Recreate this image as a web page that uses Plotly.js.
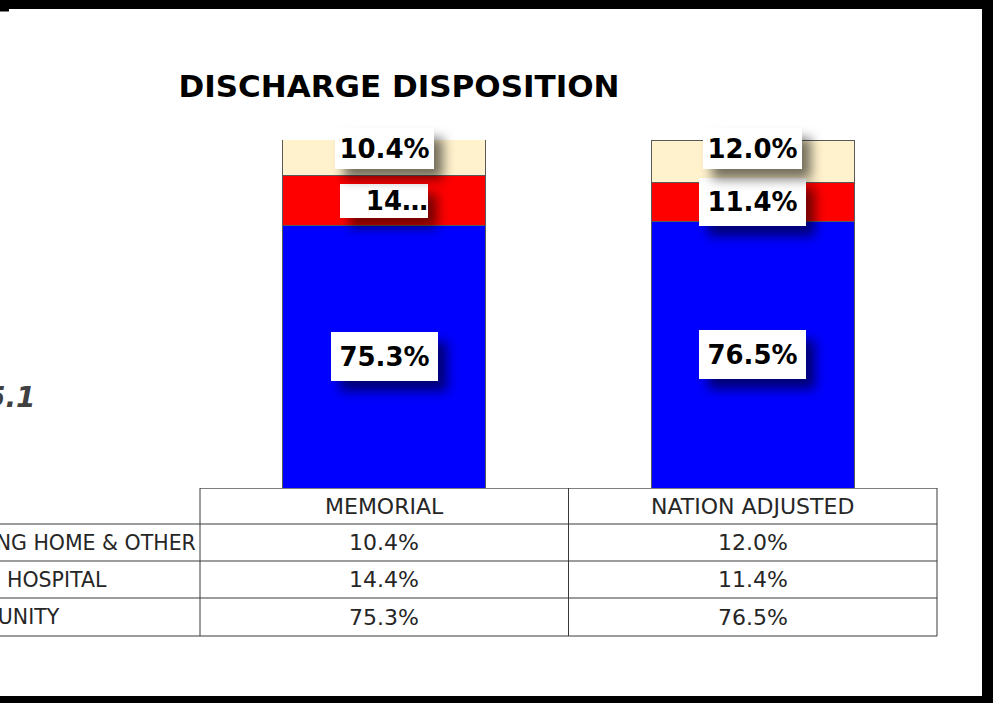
<!DOCTYPE html>
<html><head><meta charset="utf-8">
<script src="https://cdn.plot.ly/plotly-3.0.1.min.js"></script>
<style>html,body{margin:0;padding:0;background:#000;overflow:hidden}#chart{width:993px;height:703px}</style>
</head><body>
<svg width="0" height="0" style="position:absolute"><defs>
<filter id="lblShadow" x="-30%" y="-30%" width="180%" height="200%">
<feDropShadow dx="9" dy="10" stdDeviation="6" flood-color="#000" flood-opacity="0.55"/>
</filter></defs></svg>
<div id="chart"></div>
<script>
// ---------- data ----------
const categories = ['MEMORIAL', 'NATION ADJUSTED'];
const seriesNames = ['COMMUNITY', 'ACUTE HOSPITAL', 'NURSING HOME & OTHER']; // bottom -> top of stack
const community = [75.3, 76.5];
const hospital = [14.4, 11.4];
const nursingHomeOther = [10.4, 12.0];
const chartTitle = 'DISCHARGE DISPOSITION';
const sideNote = '5.1';
// data labels that the source chart shows truncated: [seriesIndex, categoryIndex]
const truncatedLabels = [[1, 0]];

// ---------- styles ----------
const series = [community, hospital, nursingHomeOther];
const colors = ['#0000FF', '#FF0000', '#FFF2CC'];
const W = 993, H = 703;
const M = {l: 200, r: 56, t: 140, b: 215};
const plotW = W - M.l - M.r, plotH = H - M.t - M.b;
const px = x => (x - M.l) / plotW;          // pixel -> paper x
const py = y => (H - M.b - y) / plotH;      // pixel -> paper y
const tableFont = {family: 'DejaVu Sans, sans-serif', size: 22, color: '#262626'};
const rowLabelFont = {family: 'DejaVu Sans, sans-serif', size: 20.5, color: '#262626'};
const lineColor = '#3a3a3a';
const yMax = 100;

const traces = series.map((vals, s) => ({
  type: 'bar', x: categories, y: vals, name: seriesNames[s],
  marker: {color: colors[s], line: {color: '#595959', width: 1}},
  hoverinfo: 'none'
}));

const fmt = v => v.toFixed(1) + '%';
const isTrunc = (s, c) => truncatedLabels.some(t => t[0] === s && t[1] === c);

// data label annotations
const labelAnns = [];
categories.forEach((cat, c) => {
  let base = 0;
  series.forEach((vals, s) => {
    const v = vals[c];
    const top = s === series.length - 1;
    let txt = fmt(v);
    let w = top ? 99 : 107, h = top ? 41 : 49;
    if (isTrunc(s, c)) { txt = txt.slice(0, 2) + '…'; w = 88; h = 34; }
    if (s === 1 && !isTrunc(s, c)) h = 48;
    labelAnns.push({
      xref: 'x', yref: 'y', x: cat, y: top ? Math.min(base + v, yMax) : base + v / 2,
      yanchor: top ? 'top' : 'middle', yshift: top ? 12 : 0,
      text: '<b>' + txt + '</b>', showarrow: false,
      font: {family: 'DejaVu Sans, sans-serif', size: 26, color: '#000'},
      bgcolor: '#FFFFFF', borderpad: 0, borderwidth: 0, width: w, height: h,
      align: isTrunc(s, c) ? 'right' : 'center'
    });
    base += v;
  });
});

// table
const rowY = [542.5, 579.5, 617];   // row centres (px) top->bottom
const headerY = 506;
const tableAnns = [];
categories.forEach(cat => tableAnns.push({
  xref: 'x', yref: 'paper', x: cat, y: py(headerY), yanchor: 'middle',
  text: cat, showarrow: false, font: tableFont
}));
const rowSeries = series.map((_, i) => i).reverse(); // top row = top of stack
rowSeries.forEach((s, r) => {
  tableAnns.push({
    xref: 'paper', yref: 'paper', x: px(-70), y: py(rowY[r]), xanchor: 'left', yanchor: 'middle',
    text: seriesNames[s], showarrow: false, font: rowLabelFont
  });
  categories.forEach((cat, c) => tableAnns.push({
    xref: 'x', yref: 'paper', x: cat, y: py(rowY[r]), yanchor: 'middle',
    text: fmt(series[s][c]), showarrow: false, font: tableFont
  }));
});
tableAnns.push({
  xref: 'paper', yref: 'paper', x: px(38), y: py(397), xanchor: 'right', yanchor: 'middle',
  text: '<b><i>' + sideNote + '</i></b>', showarrow: false,
  font: {family: 'DejaVu Sans, sans-serif', size: 28, color: '#404040'}
});

const shapes = [
  {type: 'rect', xref: 'paper', yref: 'paper', x0: px(0), x1: px(982), y0: py(9), y1: py(696),
   fillcolor: '#FFFFFF', line: {width: 0}, layer: 'below'},
  {type: 'rect', xref: 'paper', yref: 'paper', x0: px(0), x1: px(9), y0: py(8), y1: py(11.5),
   fillcolor: '#000000', line: {width: 0}, layer: 'below'}
];
// vertical table lines at category boundaries
const colEdges = [-0.5, 0.5, 1.5].map(b => (b + 0.5) / categories.length);
colEdges.forEach(xp => shapes.push({type: 'line', xref: 'paper', yref: 'paper',
  x0: xp, x1: xp, y0: py(488), y1: py(636), line: {color: lineColor, width: 1}}));
[524, 561, 598, 636].forEach(yy => shapes.push({type: 'line', xref: 'paper', yref: 'paper',
  x0: px(-5), x1: 1, y0: py(yy), y1: py(yy), line: {color: lineColor, width: 1}}));

const layout = {
  width: W, height: H, margin: M,
  paper_bgcolor: '#000000', plot_bgcolor: 'rgba(0,0,0,0)',
  barmode: 'stack', bargap: 0.45, showlegend: false,
  title: {text: '<b>' + chartTitle + '</b>', x: 399 / W, xanchor: 'center',
          y: 1 - 86 / H, yanchor: 'middle',
          font: {family: 'DejaVu Sans, sans-serif', size: 31, color: '#000'}},
  xaxis: {type: 'category', range: [-0.5, 1.5], showline: true, linecolor: '#7f7f7f', linewidth: 1,
          showticklabels: false, ticks: '', showgrid: false, zeroline: false, fixedrange: true},
  yaxis: {range: [0, yMax], visible: false, showgrid: false, zeroline: false, fixedrange: true},
  annotations: labelAnns.concat(tableAnns),
  shapes: shapes
};

Plotly.newPlot('chart', traces, layout, {staticPlot: true, displayModeBar: false}).then(gd => {
  const n = labelAnns.length;
  gd.querySelectorAll('.annotation').forEach(a => {
    const idx = +a.getAttribute('data-index');
    if (idx < n) {
      const bg = a.querySelector('rect.bg');
      if (bg) bg.setAttribute('filter', 'url(#lblShadow)');
    }
  });
});
</script>
</body></html>
